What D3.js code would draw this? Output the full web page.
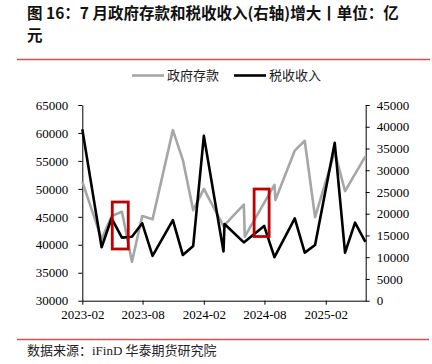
<!DOCTYPE html>
<html>
<head>
<meta charset="utf-8">
<script src="https://cdn.jsdelivr.net/npm/d3@7"></script>
<style>
    body { margin: 0; background: #fff; }
    svg { display: block; }
</style>
</head>
<body>
<div id="chart-area"></div>
<script>
// Data (dates as plotted on the time axis)
const depositDates = ['2023-02-01', '2023-03-31', '2023-04-30', '2023-05-31', '2023-06-30', '2023-07-31',
    '2023-08-31', '2023-10-31', '2023-11-30', '2023-12-31', '2024-02-01', '2024-03-31', '2024-05-31',
    '2024-06-03', '2024-08-31', '2024-09-03', '2024-10-31', '2024-11-30', '2024-12-31', '2025-02-28',
    '2025-03-31', '2025-05-31'];
const depositValues = [51300, 41000, 45150, 45900, 36950, 45150,
    44550, 60500, 55150, 46200, 50000, 43350, 47200,
    41450, 50700, 48000, 56850, 58600, 44950, 56600,
    49600, 55800];

const taxDates = ['2023-02-01', '2023-03-31', '2023-04-30', '2023-05-31', '2023-06-30', '2023-07-31',
    '2023-08-31', '2023-10-31', '2023-11-30', '2023-12-31', '2024-02-01', '2024-03-31', '2024-04-03',
    '2024-05-31', '2024-07-31', '2024-08-31', '2024-10-31', '2024-11-30', '2024-12-31', '2025-02-28',
    '2025-03-31', '2025-04-30', '2025-05-31'];
const taxValues = [39400, 12300, 18950, 14500, 14700, 17800,
    10300, 18550, 10500, 12600, 37900, 11300, 17650,
    13400, 17200, 10000, 18950, 11050, 12800, 36300,
    11050, 17950, 13550];

const seriesNames = ['政府存款', '税收收入'];
const xTickDates = ['2023-02-01', '2023-08-01', '2024-02-01', '2024-08-01', '2025-02-01'];
const leftTicks = [30000, 35000, 40000, 45000, 50000, 55000, 60000, 65000];
const rightTicks = [0, 5000, 10000, 15000, 20000, 25000, 30000, 35000, 40000, 45000];

// Highlight boxes (date range, left-axis value range)
const boxDates = [['2023-05-02', '2023-06-19'], ['2024-07-01', '2024-08-15']];
const boxValues = [[39250, 47650], [41480, 49970]];

const parse = d3.timeParse('%Y-%m-%d');

const width = 432;
const height = 364;
const plot = { left: 82.3, right: 365.7, top: 105, bottom: 300.7 };

const svg = d3.select('#chart-area')
    .append('svg')
    .attr('width', width)
    .attr('height', height);

// Title
const title = svg.append('text')
    .attr('x', 27)
    .attr('font-family', '"Noto Sans CJK SC", sans-serif')
    .attr('font-size', '15.5px')
    .attr('font-weight', 'bold')
    .attr('fill', '#111');
title.append('tspan').attr('x', 27).attr('y', 18.5)
    .text('图 16：7 月政府存款和税收收入(右轴)增大丨单位：亿');
title.append('tspan').attr('x', 27).attr('y', 40.5)
    .text('元');

// Red rules
svg.append('line')
    .attr('x1', 17).attr('x2', 430)
    .attr('y1', 59.5).attr('y2', 59.5)
    .attr('stroke', '#d45050')
    .attr('stroke-width', 1.5);
svg.append('line')
    .attr('x1', 17).attr('x2', 429)
    .attr('y1', 339.5).attr('y2', 339.5)
    .attr('stroke', '#d45050')
    .attr('stroke-width', 1.5);

// X Scale
const x = d3.scaleTime()
    .domain([parse('2023-02-01'), parse('2025-06-01')])
    .range([plot.left, plot.right]);

// Y Scales
const yLeft = d3.scaleLinear()
    .domain([30000, 65000])
    .range([plot.bottom, plot.top]);
const yRight = d3.scaleLinear()
    .domain([0, 45000])
    .range([plot.bottom, plot.top]);

// Axes
const xAxisCall = d3.axisBottom(x)
    .tickValues(xTickDates.map(parse))
    .tickFormat(d3.timeFormat('%Y-%m'))
    .tickSize(4)
    .tickSizeOuter(0)
    .tickPadding(5);
const xAxis = svg.append('g')
    .attr('transform', 'translate(0,' + plot.bottom + ')')
    .call(xAxisCall);

const yLeftCall = d3.axisLeft(yLeft)
    .tickValues(leftTicks)
    .tickFormat(d3.format('d'))
    .tickSize(4)
    .tickSizeOuter(0)
    .tickPadding(10);
const yLeftAxis = svg.append('g')
    .attr('transform', 'translate(' + plot.left + ',0)')
    .call(yLeftCall);

const yRightCall = d3.axisRight(yRight)
    .tickValues(rightTicks)
    .tickFormat(d3.format('d'))
    .tickSize(4)
    .tickSizeOuter(0)
    .tickPadding(7);
const yRightAxis = svg.append('g')
    .attr('transform', 'translate(' + plot.right + ',0)')
    .call(yRightCall);

[xAxis, yLeftAxis, yRightAxis].forEach((ax) => {
    ax.selectAll('text')
        .attr('font-family', '"Liberation Serif", "Times New Roman", serif')
        .attr('font-size', '13px')
        .attr('fill', '#000');
    ax.selectAll('line, path').attr('stroke', '#000');
});

// Lines
const deposits = depositDates.map((d, i) => ({ date: parse(d), value: depositValues[i] }));
const taxes = taxDates.map((d, i) => ({ date: parse(d), value: taxValues[i] }));

const depositLine = d3.line()
    .x((d) => x(d.date))
    .y((d) => yLeft(d.value));
const taxLine = d3.line()
    .x((d) => x(d.date))
    .y((d) => yRight(d.value));

svg.append('path')
    .datum(deposits)
    .attr('d', depositLine)
    .attr('fill', 'none')
    .attr('stroke', '#a6a6a6')
    .attr('stroke-width', 2.6)
    .attr('stroke-linejoin', 'round');

svg.append('path')
    .datum(taxes)
    .attr('d', taxLine)
    .attr('fill', 'none')
    .attr('stroke', '#000')
    .attr('stroke-width', 2.6)
    .attr('stroke-linejoin', 'round');

// Highlight boxes
boxDates.forEach((b, i) => {
    const x0 = x(parse(b[0]));
    const x1 = x(parse(b[1]));
    const y0 = yLeft(boxValues[i][1]);
    const y1 = yLeft(boxValues[i][0]);
    svg.append('rect')
        .attr('x', x0)
        .attr('y', y0)
        .attr('width', x1 - x0)
        .attr('height', y1 - y0)
        .attr('fill', 'none')
        .attr('stroke', '#c00000')
        .attr('stroke-width', 2.8);
});

// Legend
const legendColors = ['#a6a6a6', '#000'];
const legendX = [132, 234];
seriesNames.forEach((name, i) => {
    const lg = svg.append('g')
        .attr('transform', 'translate(' + legendX[i] + ', 75.5)');
    lg.append('line')
        .attr('x1', 0).attr('x2', 32)
        .attr('stroke', legendColors[i])
        .attr('stroke-width', 2.6);
    lg.append('text')
        .attr('x', 35)
        .attr('dy', '0.35em')
        .attr('font-family', '"Noto Sans CJK SC", sans-serif')
        .attr('font-size', '13px')
        .attr('fill', '#222')
        .text(name);
});

// Source
svg.append('text')
    .attr('x', 27)
    .attr('y', 355)
    .attr('font-family', '"Liberation Serif", "Noto Sans CJK SC", serif')
    .attr('font-size', '13px')
    .attr('fill', '#222')
    .text('数据来源：iFinD  华泰期货研究院');
</script>
</body>
</html>
